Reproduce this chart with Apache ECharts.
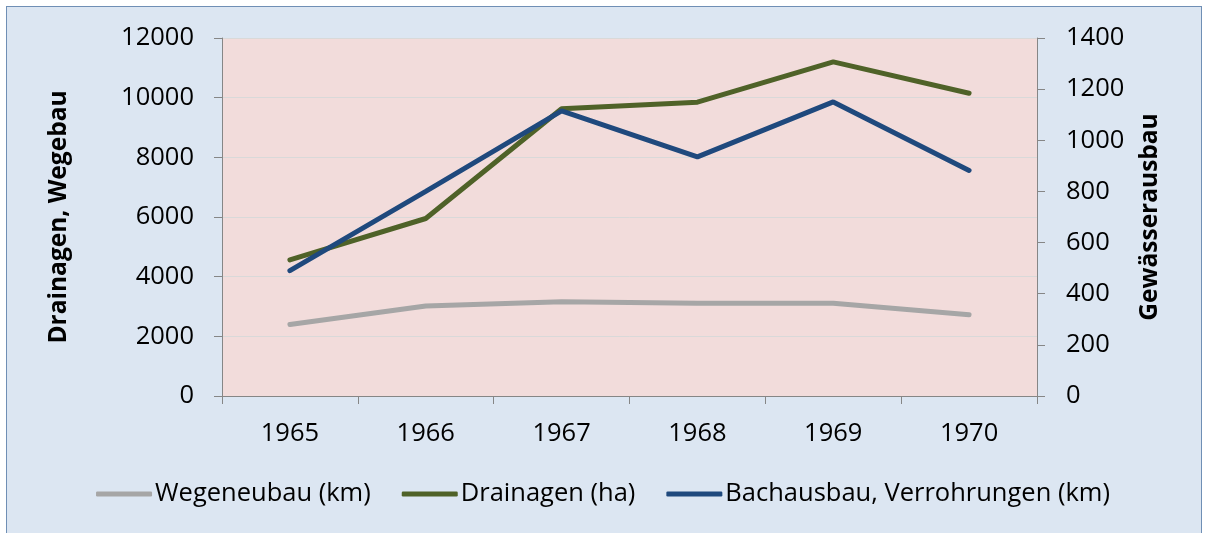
<!DOCTYPE html>
<html>
<head>
<meta charset="utf-8">
<script src="https://cdn.jsdelivr.net/npm/echarts@6/dist/echarts.min.js"></script>
<style>
  html, body { margin: 0; padding: 0; background: #ffffff; }
  #frame {
    position: absolute; left: 6px; top: 6px; width: 1196px; height: 540px;
    background: #dce6f2; border: 1px solid #6f8fb5; border-bottom: none; box-sizing: border-box;
  }
  #chart { position: absolute; left: 0; top: 0; width: 1206px; height: 533px; }
</style>
</head>
<body>
<div id="frame"></div>
<div id="chart"></div>
<script>
// Daten
const jahre = ["1965", "1966", "1967", "1968", "1969", "1970"];
const wegeneubau = [2400, 3020, 3160, 3110, 3110, 2720];      // linke Achse
const drainagen = [4560, 5950, 9630, 9850, 11200, 10150];      // linke Achse
const bachausbau = [490, 800, 1115, 935, 1150, 882];           // rechte Achse

const chart = echarts.init(document.getElementById("chart"));
const font = "'Open Sans', 'Liberation Sans', sans-serif";
const fs = 25.5;

chart.setOption({
  animation: false,
  textStyle: { fontFamily: font },
  grid: { left: 222, right: 169, top: 38, bottom: 137, show: true, backgroundColor: "#f2dcdb", borderWidth: 0 },
  legend: {
    top: 476,
    left: "center",
    itemWidth: 56,
    itemHeight: 5,
    itemGap: 31,
    textStyle: { fontSize: fs, color: "#000", fontFamily: font, padding: [0, 0, 0, -2] },
    data: [
      { name: "Wegeneubau (km)", icon: "roundRect" },
      { name: "Drainagen (ha)", icon: "roundRect" },
      { name: "Bachausbau, Verrohrungen (km)", icon: "roundRect" }
    ]
  },
  xAxis: {
    type: "category",
    data: jahre,
    boundaryGap: true,
    axisLine: { lineStyle: { color: "#868686", width: 1 } },
    axisTick: { show: true, length: 8, lineStyle: { color: "#868686" } },
    axisLabel: { fontSize: fs, color: "#000", margin: 25 }
  },
  yAxis: [
    {
      type: "value", min: 0, max: 12000, interval: 2000,
      name: "Drainagen, Wegebau", nameLocation: "middle", nameGap: 150,
      nameTextStyle: { fontSize: 24.5, fontWeight: "bold", color: "#000" },
      axisLine: { show: true, lineStyle: { color: "#868686" } },
      axisTick: { show: true, length: 8, lineStyle: { color: "#868686" } },
      axisLabel: { fontSize: fs, color: "#000", margin: 28, formatter: v => String(v) },
      splitLine: { lineStyle: { color: "#d9d9d9", width: 1 } }
    },
    {
      type: "value", min: 0, max: 1400, interval: 200,
      name: "Gewässerausbau", nameLocation: "middle", nameGap: 101,
      nameRotate: 90,
      nameTextStyle: { fontSize: 24.5, fontWeight: "bold", color: "#000" },
      axisLine: { show: true, lineStyle: { color: "#868686" } },
      axisTick: { show: true, length: 8, lineStyle: { color: "#868686" } },
      axisLabel: { fontSize: fs, color: "#000", margin: 29, formatter: v => String(v) },
      splitLine: { show: false }
    }
  ],
  series: [
    {
      name: "Wegeneubau (km)", type: "line", yAxisIndex: 0, data: wegeneubau,
      showSymbol: false, color: "#a6a6a6", lineStyle: { width: 5, color: "#a6a6a6", cap: "round" }
    },
    {
      name: "Drainagen (ha)", type: "line", yAxisIndex: 0, data: drainagen,
      showSymbol: false, color: "#4f6228", lineStyle: { width: 5, color: "#4f6228", cap: "round" }
    },
    {
      name: "Bachausbau, Verrohrungen (km)", type: "line", yAxisIndex: 1, data: bachausbau,
      showSymbol: false, color: "#1f497d", lineStyle: { width: 5, color: "#1f497d", cap: "round" }
    }
  ]
});
</script>
</body>
</html>
